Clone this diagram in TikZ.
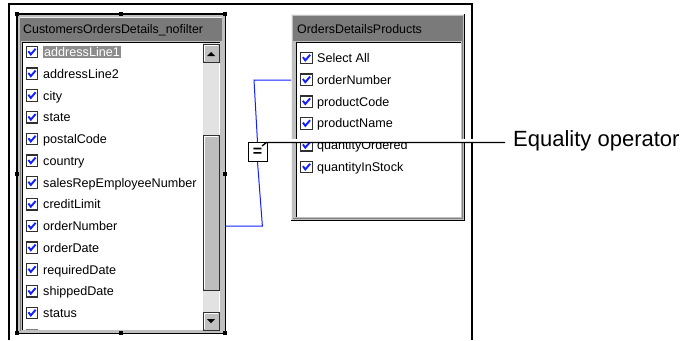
\documentclass[tikz,border=0pt]{standalone}
\usepackage{fontspec}
\setmainfont{Liberation Sans}
\definecolor{winface}{HTML}{C0C0C0}
\definecolor{titlegray}{HTML}{7A7A7A}
\definecolor{trackgray}{HTML}{E2E2E2}
\definecolor{thumbgray}{HTML}{BEBEBE}
\definecolor{linkblue}{HTML}{1020FF}
\definecolor{selgray}{HTML}{8C8C8C}
\definecolor{boxgray}{HTML}{303030}
\begin{document}
\begin{tikzpicture}[x=1pt,y=-1pt,
  item/.style={anchor=base west,inner sep=0pt,font=\fontsize{12.6}{14}\selectfont},
  ttl/.style={anchor=base west,inner sep=0pt,font=\fontsize{12.4}{14}\selectfont,text=black},
  cbox/.style={draw=boxgray,fill=white,line width=1.3pt,minimum size=11.5pt,inner sep=0pt},
  checkmark/.style={draw=linkblue,line width=1.9pt},
  handle/.style={fill=black,minimum size=4pt,inner sep=0pt,draw=none},
  link/.style={draw=linkblue,line width=1pt},
  chk/.pic={\node[cbox] (-box) {}; \draw[checkmark] (-3.6,-0.8) -- (-1.2,2.4) -- (3.6,-3.2);},
]
\useasboundingbox (0,0) rectangle (684,340);
% outer frame
\draw[line width=1.2pt] (9,340) -- (9,4) -- (472,4) -- (472,340);

% ---------- left window ----------
\node[fill=winface,minimum width=208pt,minimum height=319pt,inner sep=0pt,anchor=north west] (leftwin) at (17,14) {};
\fill[titlegray] (20,17) rectangle (222,41);
\draw[white!85!gray,line width=0.8pt] (20,17.4) -- (222,17.4);
\node[ttl] (lt) at (23,33.5) {CustomersOrdersDetails\_nofilter};
\fill[white] (22,42) rectangle (220,330);
\draw[black,line width=1.2pt] (22.6,330) -- (22.6,42.6) -- (220,42.6);
\draw[gray,line width=0.8pt] (20.4,331) -- (20.4,41.4);
% scrollbar
\fill[trackgray] (203,43) rectangle (219,330);
\filldraw[fill=winface,draw=boxgray,line width=0.8pt] (203,44) rectangle (219,62);
\draw[white,line width=0.8pt] (204,61) -- (204,45) -- (218,45);
\fill[black] (207,56) -- (215,56) -- (211,52) -- cycle;
\filldraw[fill=thumbgray,draw=boxgray,line width=0.8pt] (203,135) rectangle (219,290);
\draw[white,line width=0.8pt] (204,289) -- (204,136) -- (218,136);
\filldraw[fill=winface,draw=boxgray,line width=0.8pt] (203,312) rectangle (219,330);
\draw[white,line width=0.8pt] (204,329) -- (204,313) -- (218,313);
\fill[black] (207,319) -- (215,319) -- (211,323) -- cycle;
% rows
\pic (lc1) at (32,52) {chk};
\node[item,fill=selgray,text=white,inner sep=1pt] (lr1) at (43,56.5) {addressLine1};
\foreach \t [count=\i from 2] in {addressLine2,city,state,postalCode,country,salesRepEmployeeNumber,creditLimit,orderNumber,orderDate,requiredDate,shippedDate,status}{
  \pgfmathsetmacro\yy{52+21.75*(\i-1)}
  \pic (lc\i) at (32,\yy) {chk};
  \node[item] (lr\i) at (43,\yy+4.5) {\t};
}
\draw[gray,line width=1.2pt] (26,329.4) -- (38,329.4);
% selection frame and handles
\draw[black,line width=1.8pt] (leftwin.north west) rectangle (leftwin.south east);
\foreach \a [count=\k] in {north west,north,north east,west,east,south west,south,south east}
  \node[handle] (h\k) at (leftwin.\a) {};

% ---------- right window ----------
\node[fill=winface,minimum width=174pt,minimum height=207pt,inner sep=0pt,anchor=north west] (rightwin) at (291,14) {};
\draw[white!88!gray,line width=1pt] (291.5,221) -- (291.5,14.5) -- (465,14.5);
\draw[black,line width=1.2pt] (464.4,14) -- (464.4,220.4) -- (291,220.4);
\draw[gray,line width=1pt] (462.5,16) -- (462.5,218.5) -- (293,218.5);
\fill[titlegray] (293,16) rectangle (462,41);
\node[ttl] (rt) at (297,33.5) {OrdersDetailsProducts};
\fill[white] (296,42) rectangle (461,217);
\draw[black,line width=1.2pt] (296.6,217) -- (296.6,42.6) -- (461,42.6);
\foreach \t [count=\i] in {Select All,orderNumber,productCode,productName,quantityOrdered,quantityInStock}{
  \pgfmathsetmacro\yy{58+21.8*(\i-1)}
  \pic (rc\i) at (306.5,\yy) {chk};
  \node[item] (rr\i) at (317,\yy+4.5) {\t};
}

% ---------- join ----------
\node[draw=black,fill=white,line width=0.9pt,minimum width=19pt,minimum height=19pt,inner sep=0pt,
      font=\bfseries\fontsize{16}{16}\selectfont] (eq) at (257.5,152) {=};
\draw[link] (leftwin.east |- lr9.west) -- ++(37,0) -- (eq.south);
\draw[link] (eq.north) -- (254,80) -- (rightwin.west |- 0,80);

% ---------- callout ----------
\node[anchor=base west,inner sep=0pt,font=\fontsize{22}{24}\selectfont] (lbl) at (513,146) {Equality operator};
\coordinate (cstart) at (262,146);
\coordinate (cbend) at (266.5,142.5);
\fill[white] (268,138.5) rectangle (505,142);
\draw[black,line width=1.3pt] (cstart) -- (cbend) -- ([xshift=-8pt]lbl.west |- cbend);
\end{tikzpicture}
\end{document}
